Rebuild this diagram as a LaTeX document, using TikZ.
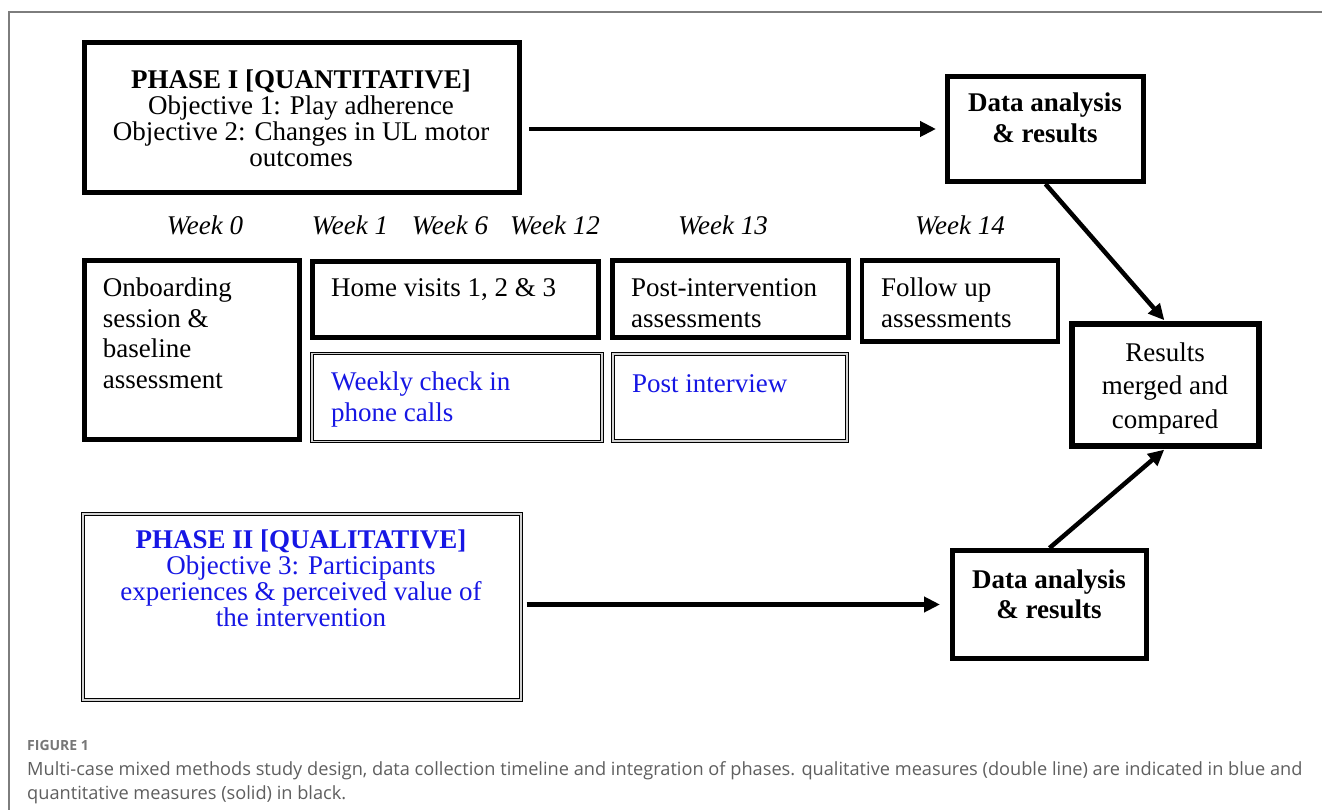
\documentclass[tikz,border=0pt]{standalone}
\usepackage{fontspec}
\setmainfont{Liberation Serif}
\newfontfamily\capfont{Open Sans}
\usetikzlibrary{arrows.meta}
\definecolor{qblue}{RGB}{22,22,228}
\definecolor{framegray}{RGB}{125,125,125}
\definecolor{capgray}{RGB}{95,95,95}
\newcommand{\ctrlines}[2]{\vtop{\baselineskip=#1\lineskiplimit=-100pt\lineskip=0pt\halign{\hfil##\hfil\cr#2\crcr}}}
\newcommand{\leftlines}[2]{\vtop{\baselineskip=#1\lineskiplimit=-100pt\lineskip=0pt\halign{##\hfil\cr#2\crcr}}}
\begin{document}
\begin{tikzpicture}[x=1pt,y=-1pt,
  quant/.style={draw=black, line width=5pt, inner sep=0pt},
  qual/.style={draw=black, line width=1pt, double=gray!35, double distance=1.6pt, inner sep=0pt},
  txt/.style={inner sep=0pt, font=\fontsize{27}{26}\selectfont},
  qtxt/.style={txt, text=qblue},
  week/.style={inner sep=0pt, anchor=base, font=\fontsize{27}{26}\selectfont\itshape},
  flow/.style={line width=4.5pt, -{Triangle[length=16pt,width=15pt]}},
]
\useasboundingbox (0,0) rectangle (1322,810);
\fill[white] (0,0) rectangle (1322,810);
% outer frame (top and left only)
\draw[framegray, line width=1.6pt] (9,810) -- (9,12) -- (1322,12);

% Phase I
\node[quant, minimum width=435pt, minimum height=150pt] (p1) at (302,117.5) {};
\node[txt, anchor=base] (p1t) at (301,89) {\ctrlines{26pt}{\bfseries PHASE I [QUANTITATIVE]\cr Objective 1: Play adherence\cr Objective 2: Changes in UL motor\cr outcomes}};

% Data analysis (top)
\node[quant, minimum width=196pt, minimum height=105pt] (da1) at (1045.5,129) {};
\node[txt, anchor=base, font=\fontsize{27}{26}\selectfont\bfseries] (da1t) at (1045,112) {\ctrlines{31pt}{Data analysis\cr \& results}};

% Week labels
\node[week] (w0) at (205,235) {Week 0};
\node[week] (w1) at (350,235) {Week 1};
\node[week] (w6) at (450,235) {Week 6};
\node[week] (w12) at (555,235) {Week 12};
\node[week] (w13) at (723,235) {Week 13};
\node[week] (w14) at (960,235) {Week 14};

% Timeline boxes
\node[quant, minimum width=215pt, minimum height=179pt] (onb) at (192,350) {};
\node[txt, anchor=base west] (onbt) at (102.7,297) {\leftlines{30.5pt}{Onboarding\cr session \&\cr baseline\cr assessment}};

\node[quant, minimum width=286pt, minimum height=76pt] (home) at (455.5,299.5) {};
\node[txt, anchor=base west] (homet) at (331,296) {Home visits 1, 2 \& 3};

\node[qual, minimum width=290pt, minimum height=88pt] (wk) at (457,397.5) {};
\node[qtxt, anchor=base west] (wkt) at (331,390) {\leftlines{31pt}{Weekly check in\cr phone calls}};

\node[quant, minimum width=236pt, minimum height=77pt] (post) at (730.5,299) {};
\node[txt, anchor=base west] (postt) at (631,296) {\leftlines{32pt}{Post-intervention\cr assessments}};

\node[qual, minimum width=234pt, minimum height=87pt] (pint) at (730,397.5) {};
\node[qtxt, anchor=base west] (pintt) at (632,392) {Post interview};

\node[quant, line width=4.5pt, minimum width=196pt, minimum height=81pt] (fol) at (960,301) {};
\node[txt, anchor=base west] (folt) at (881,296) {\leftlines{32pt}{Follow up\cr assessments}};

% Results
\node[quant, line width=6pt, minimum width=187pt, minimum height=122pt] (res) at (1165,385) {};
\node[txt, anchor=base] (rest) at (1165,361) {\ctrlines{33.5pt}{Results\cr merged and\cr compared}};

% Phase II
\node[qual, minimum width=438pt, minimum height=186pt] (p2) at (302,607) {};
\node[qtxt, anchor=base] (p2t) at (301,548) {\ctrlines{26pt}{\bfseries PHASE II [QUALITATIVE]\cr Objective 3: Participants\cr experiences \& perceived value of\cr the intervention}};

% Data analysis (bottom)
\node[quant, minimum width=194pt, minimum height=108pt] (da2) at (1049.5,604.5) {};
\node[txt, anchor=base, font=\fontsize{27}{26}\selectfont\bfseries] (da2t) at (1049,588) {\ctrlines{30pt}{Data analysis\cr \& results}};

% Connectors
\draw[flow, shorten <=7pt, shorten >=9pt] (p1.east |- da1.west) -- (da1.west);
\draw[flow, shorten <=5pt, shorten >=10pt] (p2.east |- da2.west) -- (da2.west);
\draw[flow, shorten >=1pt] (da1.south) -- (res.north);
\draw[flow, shorten >=1pt] (da2.north) -- (res.south);

% Caption
\node[anchor=base west, inner sep=0pt, font=\capfont\fontsize{14}{16}\selectfont\bfseries, text=capgray!85] (fig) at (27,750) {FIGURE 1};
\node[anchor=base west, inner sep=0pt, font=\capfont\fontsize{18.2}{23}\selectfont, text=capgray] (cap) at (27,775) {\leftlines{24pt}{Multi-case mixed methods study design, data collection timeline and integration of phases. qualitative measures (double line) are indicated in blue and\cr quantitative measures (solid) in black.}};
\end{tikzpicture}
\end{document}
